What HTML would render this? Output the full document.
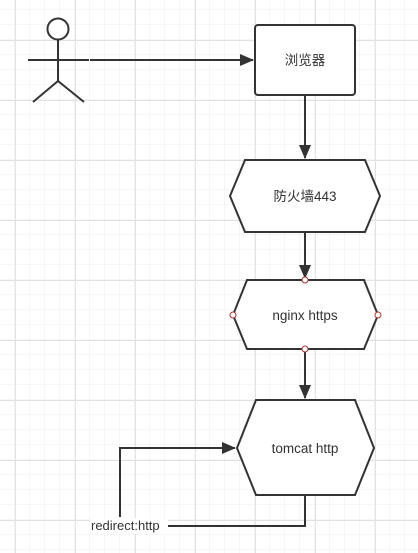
<!DOCTYPE html>
<html><head><meta charset="utf-8"><style>
html,body{margin:0;padding:0;background:#fff;}
svg{display:block;}
text{font-family:"Liberation Sans","Noto Sans CJK SC",sans-serif;font-size:13.5px;fill:#333;}
</style></head><body>
<svg width="418" height="553" viewBox="0 0 418 553" xmlns="http://www.w3.org/2000/svg">
<defs>
<pattern id="g" x="0" y="10" width="15" height="15" patternUnits="userSpaceOnUse">
<path d="M15 0V15M0 15H15" stroke="#ececec" stroke-width="1" fill="none"/>
</pattern>
<pattern id="G" x="15" y="40" width="60" height="60" patternUnits="userSpaceOnUse">
<path d="M0.5 0V60M0 0.5H60" stroke="#e2e2e2" stroke-width="1" fill="none"/>
</pattern>
<marker id="a" markerWidth="14" markerHeight="12" refX="13" refY="6" orient="auto" markerUnits="userSpaceOnUse">
<path d="M0 0L14 6L0 12z" fill="#333"/>
</marker>
</defs>
<rect width="418" height="553" fill="url(#g)"/>
<rect width="418" height="553" fill="url(#G)"/>
<g stroke="#333" stroke-width="2" fill="none">
<circle cx="58" cy="29" r="10.5" fill="#fff"/>
<path d="M58 40V81M28 60H89M58 81L33 102M58 81L84 102"/>
<path d="M90 60H253" marker-end="url(#a)"/>
<rect x="255" y="25" width="100" height="70" rx="3" fill="#fff"/>
<path d="M305 95V158" marker-end="url(#a)"/>
<path d="M245 160H365L380 196L365 232H245L230 196Z" fill="#fff"/>
<path d="M305 232V278" marker-end="url(#a)"/>
<path d="M247 280H364L378 315L364 349H247L233 315Z" fill="#fff"/>
<path d="M305 349V398" marker-end="url(#a)"/>
<path d="M256 400H355L374 448L355 495H256L237 448Z" fill="#fff"/>
<path d="M305 495V526H168"/>
<path d="M120 517V448H235" marker-end="url(#a)"/>
</g>
<g fill="#fff" stroke="#a33" stroke-width="1">
<circle cx="305" cy="280" r="3"/><circle cx="233" cy="315" r="3"/>
<circle cx="378" cy="315" r="3"/><circle cx="305" cy="349" r="3"/>
</g>
<text x="305" y="65" text-anchor="middle">浏览器</text>
<text x="305" y="201" text-anchor="middle">防火墙443</text>
<text x="305" y="320" text-anchor="middle">nginx https</text>
<text x="305" y="453" text-anchor="middle">tomcat http</text>
<rect x="91" y="518" width="77" height="16" fill="#fff"/>
<text x="91" y="530" style="font-size:13px">redirect:http</text>
</svg>
</body></html>
